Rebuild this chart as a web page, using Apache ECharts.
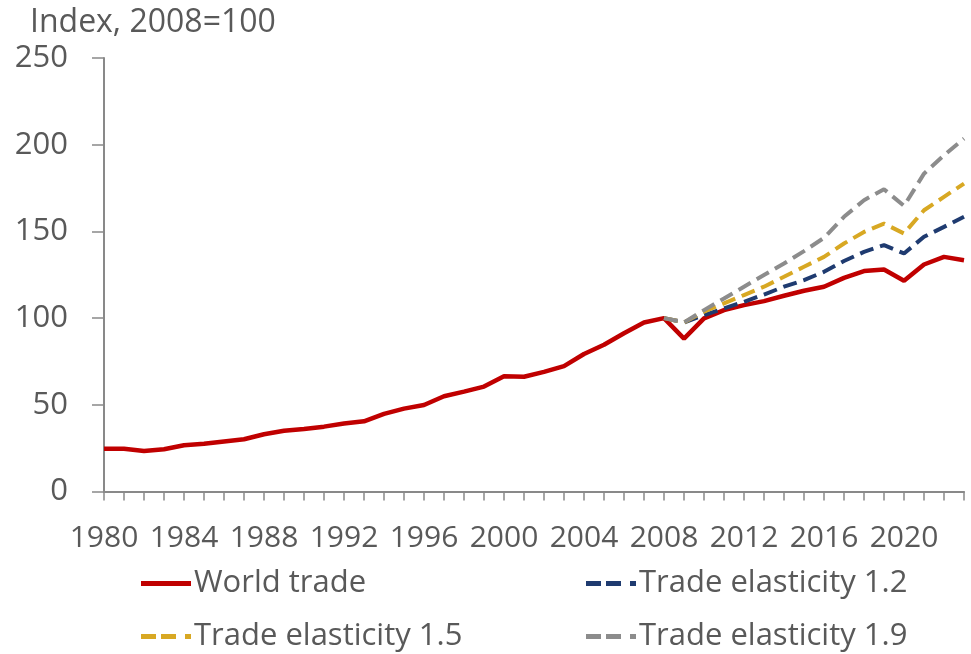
<!DOCTYPE html>
<html>
<head>
<meta charset="utf-8">
<script src="https://cdn.jsdelivr.net/npm/echarts@6/dist/echarts.min.js"></script>
<style>html,body{margin:0;padding:0;background:#fff;}#c{width:971px;height:654px;}</style>
</head>
<body>
<div id="c"></div>
<script>
const years = [];
for (let y = 1980; y <= 2023; y++) years.push(String(y));

const worldTrade = [24.6,24.6,23.4,24.4,26.7,27.5,28.8,30.1,33.0,35.0,36.1,37.4,39.2,40.5,44.8,47.8,49.9,54.9,57.6,60.5,
  66.4,66.2,69.0,72.3,79.3,84.6,91.3,97.5,100,88.2,99.8,104.6,107.5,109.8,112.9,115.8,118.1,123.2,127.1,128.0,121.5,130.9,135.3,133.4];

const pre = new Array(28).fill(null); // 1980-2007
const elast12 = pre.concat([100,97.5,101.7,105.6,109.4,113.6,118.1,121.9,126.7,132.9,138.2,142.1,137.3,146.9,152.6,158.4]);
const elast15 = pre.concat([100,97.5,103.7,108.5,113.3,118.1,123.8,129.6,135.3,143.0,149.7,154.5,148.8,162.2,169.9,177.6]);
const elast19 = pre.concat([100,97.5,104.6,111.3,118.1,124.8,131.5,138.6,146.3,158.4,168.0,174.3,164.7,183.3,193.9,203.5]);

const yTicks = [0, 50, 100, 150, 200, 250];

const FONT = '"Open Sans", "Noto Sans", sans-serif';
const TXT = '#595959';
const AX = '#898989';

const SOLID_ICON = 'path://M0,0h50v5h-50z';
const DASH_ICON = 'path://M0,0h15v5h-15z M20,0h15v5h-15z M44,0h6v5h-6z';

const chart = echarts.init(document.getElementById('c'), null, {renderer: 'canvas'});

function dashed(name, data, color) {
  return {
    name, type: 'line', data, symbol: 'none', connectNulls: false,
    lineStyle: {color, width: 4, type: [14, 7]},
    itemStyle: {color}
  };
}

function leg(name, icon, left, top) {
  return {
    data: [{name, icon}], left, top, orient: 'horizontal',
    itemWidth: 52, itemHeight: 5, itemGap: 0,
    textStyle: {fontFamily: FONT, fontSize: 31, color: TXT, padding: [0, 0, 0, -3]}
  };
}

chart.setOption({
  animation: false,
  backgroundColor: '#fff',
  title: {
    text: 'Index, 2008=100', left: 25, top: 2,
    textStyle: {fontFamily: FONT, fontSize: 32, fontWeight: 'normal', color: TXT}
  },
  grid: {left: 104, right: 7, top: 58, bottom: 162.5, containLabel: false},
  xAxis: {
    type: 'category', data: years, boundaryGap: false,
    axisLine: {lineStyle: {color: AX, width: 2}},
    axisTick: {show: true, interval: 0, length: 9, lineStyle: {color: AX, width: 1.5}},
    axisLabel: {interval: 3, margin: 32, fontFamily: FONT, fontSize: 30, color: TXT},
    splitLine: {show: false}
  },
  yAxis: {
    type: 'value', min: yTicks[0], max: yTicks[yTicks.length - 1], interval: 50,
    axisLine: {show: true, lineStyle: {color: AX, width: 2}},
    axisTick: {show: true, length: 12, lineStyle: {color: AX, width: 1.5}},
    axisLabel: {margin: 36, fontFamily: FONT, fontSize: 31, color: TXT},
    splitLine: {show: false}
  },
  legend: [
    leg('World trade', SOLID_ICON, 136, 563),
    leg('Trade elasticity 1.2', DASH_ICON, 581, 563),
    leg('Trade elasticity 1.5', DASH_ICON, 136, 616),
    leg('Trade elasticity 1.9', DASH_ICON, 581, 616)
  ],
  series: [
    {
      name: 'World trade', type: 'line', data: worldTrade, symbol: 'none',
      lineStyle: {color: '#C00000', width: 4.5}, itemStyle: {color: '#C00000'}
    },
    dashed('Trade elasticity 1.2', elast12, '#1F3B70'),
    dashed('Trade elasticity 1.5', elast15, '#D8A823'),
    dashed('Trade elasticity 1.9', elast19, '#8C8C8C')
  ]
});
</script>
</body>
</html>
